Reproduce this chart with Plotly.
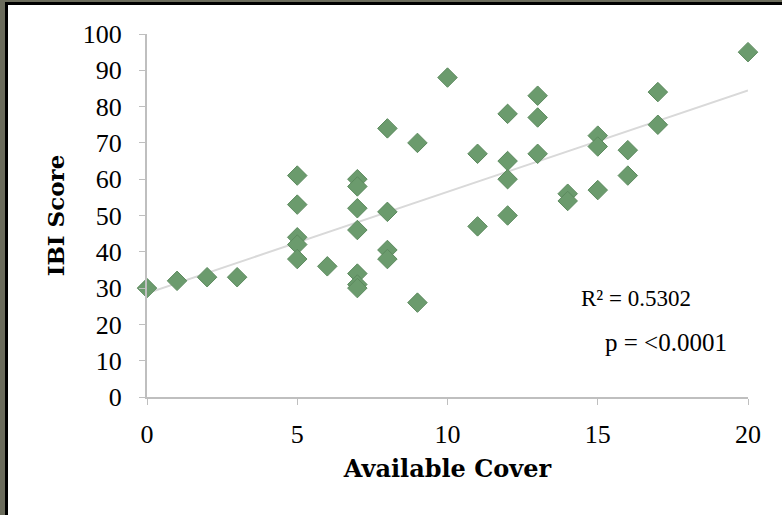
import numpy as np
import plotly.graph_objects as go

# Data
cover = [0, 1, 2, 3, 5, 5, 5, 5, 5, 6, 7, 7, 7, 7, 7, 7, 7, 8, 8, 8, 8, 9, 9,
         10, 11, 11, 12, 12, 12, 12, 13, 13, 13, 14, 14, 15, 15, 15, 16, 16, 17, 17, 20]
ibi = [30, 32, 33, 33, 61, 53, 44, 42, 38, 36, 60, 58, 52, 46, 34, 31, 30, 74, 51, 40.5, 38, 70, 26,
       88, 67, 47, 78, 65, 60, 50, 83, 77, 67, 56, 54, 72, 69, 57, 68, 61, 84, 75, 95]
x_ticks = [0, 5, 10, 15, 20]
y_ticks = [0, 10, 20, 30, 40, 50, 60, 70, 80, 90, 100]
r2_text = "R² = 0.5302"
p_text = "p = <0.0001"

slope, intercept = np.polyfit(cover, ibi, 1)
fit_x = [0, 20]
fit_y = [intercept + slope * v for v in fit_x]

W, H = 782, 515
L, R, T, B = 147, 34, 34, 118
pw, ph = W - L - R, H - T - B

def px(xp):
    return (xp - L) / pw

def py(yp):
    return (H - B - yp) / ph

fig = go.Figure()
fig.add_trace(go.Scatter(x=fit_x, y=fit_y, mode="lines",
                         line=dict(color="#d9d9d9", width=2), hoverinfo="skip",
                         showlegend=False))
fig.add_trace(go.Scatter(x=cover, y=ibi, mode="markers",
                         marker=dict(symbol="diamond", size=15, color="#6b9b6d",
                                     line=dict(color="#5c8a5e", width=1)),
                         cliponaxis=False, showlegend=False))

# frame decoration
shapes = [
    dict(type="rect", xref="paper", yref="paper", x0=px(-5), x1=px(W + 5), y0=py(-5), y1=py(H + 5),
         fillcolor="#6b6c5c", line=dict(width=0), layer="below"),
    dict(type="rect", xref="paper", yref="paper", x0=px(5), x1=px(W + 5), y0=py(2), y1=py(H + 5),
         fillcolor="#000000", line=dict(width=0), layer="below"),
    dict(type="rect", xref="paper", yref="paper", x0=px(8), x1=px(W + 5), y0=py(5), y1=py(H + 5),
         fillcolor="#ffffff", line=dict(width=0), layer="below"),
]

fig.update_layout(
    width=W, height=H,
    margin=dict(l=L, r=R, t=T, b=B, pad=0),
    paper_bgcolor="white", plot_bgcolor="rgba(0,0,0,0)",
    shapes=shapes,
    xaxis=dict(range=[0, 20], tickvals=x_ticks, showgrid=False, zeroline=False,
               showline=True, linecolor="#bfbfbf", linewidth=2,
               ticks="outside", ticklen=6, tickcolor="#bfbfbf", tickwidth=1,
               tickfont=dict(family="Liberation Serif", size=26, color="black"),
               ticklabelstandoff=7,
               title=dict(text="<b>Available Cover</b>", standoff=12,
                          font=dict(family="DejaVu Serif", size=24, color="black"))),
    yaxis=dict(range=[0, 100], tickvals=y_ticks, showgrid=False, zeroline=False,
               showline=True, linecolor="#bfbfbf", linewidth=2,
               ticks="outside", ticklen=6, tickcolor="#bfbfbf", tickwidth=1,
               tickfont=dict(family="Liberation Serif", size=26, color="black"),
               ticklabelstandoff=12,
               title=dict(text="<b>IBI Score</b>", standoff=12,
                          font=dict(family="DejaVu Serif", size=23, color="black"))),
    annotations=[
        dict(text=r2_text, xref="paper", yref="paper", x=px(636), y=py(298),
             xanchor="center", yanchor="middle",
             showarrow=False, font=dict(family="Liberation Serif", size=23, color="black")),
        dict(text=p_text, xref="paper", yref="paper", x=px(666), y=py(342),
             xanchor="center", yanchor="middle",
             showarrow=False, font=dict(family="Liberation Serif", size=25, color="black")),
    ],
)

fig.write_html("out.html")
